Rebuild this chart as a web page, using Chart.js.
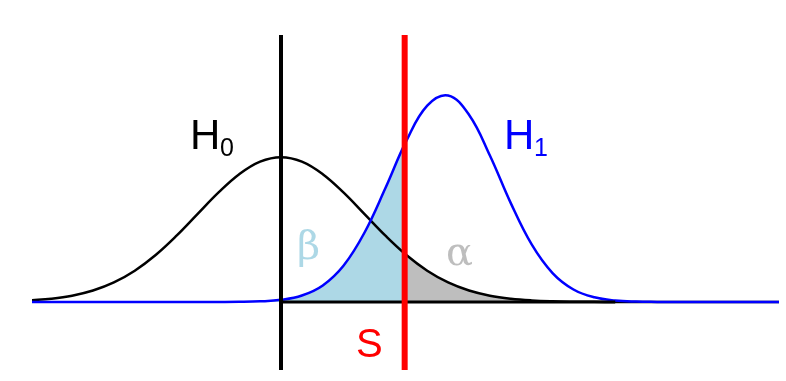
<!DOCTYPE html>
<html>
<head>
<meta charset="utf-8">
<script src="https://cdn.jsdelivr.net/npm/chart.js@4"></script>
<style>
  body { margin: 0; background: #fff; }
  canvas { display: block; }
</style>
</head>
<body>
<canvas id="chart" width="786" height="381"></canvas>
<script>
// x positions (standard units of H0)
var xs = [-3, -2.75, -2.5, -2.25, -2, -1.75, -1.5, -1.25, -1, -0.75, -0.5, -0.25, 0,
          0.25, 0.5, 0.75, 1, 1.25, 1.5, 1.75, 2, 2.25, 2.5, 2.75, 3,
          3.25, 3.5, 3.75, 4, 4.25, 4.5, 4.75, 5, 5.25, 5.5, 5.75, 6];

// H0 curve heights
var h0 = [0.0044, 0.0091, 0.0175, 0.0317, 0.054, 0.0863, 0.1295, 0.1826, 0.242, 0.3011, 0.3521, 0.3867, 0.3989,
          0.3867, 0.3521, 0.3011, 0.242, 0.1826, 0.1295, 0.0863, 0.054, 0.0317, 0.0175, 0.0091, 0.0044,
          0.002, 0.0009, 0.0004, 0.0001, 0, 0, 0, 0, 0, 0, 0, 0];

// H1 curve heights
var h1 = [0, 0, 0, 0, 0, 0, 0, 0, 0, 0.0001, 0.0004, 0.0018, 0.006,
          0.0179, 0.0457, 0.1007, 0.1915, 0.3139, 0.4437, 0.541, 0.5689, 0.516, 0.4037, 0.2723, 0.1585,
          0.0796, 0.0344, 0.0129, 0.0041, 0.0011, 0.0003, 0, 0, 0, 0, 0, 0];

// critical value S and curve heights there
var crit = 1.48;
var h0AtCrit = 0.133;
var h1AtCrit = 0.434;

// axis segment under the curves
var axisFrom = 0, axisTo = 4;

function pts(ys) {
    return xs.map(function (x, i) { return {x: x, y: ys[i]}; });
}

var h0Pts = pts(h0);
var h1Pts = pts(h1);

// beta: under H1 left of S, alpha: under H0 right of S
var betaPts = h1Pts.filter(function (p) { return p.x < crit; }).concat([{x: crit, y: h1AtCrit}]);
var alphaPts = [{x: crit, y: h0AtCrit}].concat(h0Pts.filter(function (p) { return p.x > crit; }));

var yMin = -0.1873, yMax = 0.7355;

var labels = {
    id: 'labels',
    afterDatasetsDraw: function (chart) {
        var ctx = chart.ctx;
        ctx.save();
        ctx.textBaseline = 'alphabetic';
        ctx.textAlign = 'left';

        ctx.fillStyle = '#000000';
        ctx.font = '42px "Liberation Sans", Arial, sans-serif';
        ctx.fillText('H', 190, 149);
        ctx.font = '25px "Liberation Sans", Arial, sans-serif';
        ctx.fillText('0', 220, 156);

        ctx.fillStyle = '#0000FF';
        ctx.font = '42px "Liberation Sans", Arial, sans-serif';
        ctx.fillText('H', 504, 149);
        ctx.font = '25px "Liberation Sans", Arial, sans-serif';
        ctx.fillText('1', 534, 156);

        ctx.fillStyle = '#FF0000';
        ctx.font = '40px "Liberation Sans", Arial, sans-serif';
        ctx.fillText('S', 356, 357);

        ctx.fillStyle = '#ADD8E6';
        ctx.font = '40px "DejaVu Serif", serif';
        ctx.fillText('\u03B2', 297, 259);

        ctx.fillStyle = '#BEBEBE';
        ctx.fillText('\u03B1', 446, 265);
        ctx.restore();
    }
};

new Chart(document.getElementById('chart'), {
    type: 'line',
    data: {
        datasets: [
            {
                data: betaPts, fill: 'origin', backgroundColor: '#ADD8E6',
                borderWidth: 0, pointRadius: 0, tension: 0.4, order: 10
            },
            {
                data: alphaPts, fill: 'origin', backgroundColor: '#BEBEBE',
                borderWidth: 0, pointRadius: 0, tension: 0.4, order: 10
            },
            {
                data: h0Pts, borderColor: '#000000', borderWidth: 2.5, fill: false,
                pointRadius: 0, tension: 0.4, order: 8
            },
            {
                data: h1Pts, borderColor: '#0000FF', borderWidth: 2.5, fill: false,
                pointRadius: 0, tension: 0.4, order: 7
            },
            {
                data: [{x: axisFrom, y: 0}, {x: axisTo, y: 0}], borderColor: '#000000',
                borderWidth: 3, fill: false, pointRadius: 0, order: 6
            },
            {
                data: [{x: 0, y: yMin - 0.01}, {x: 0, y: yMax + 0.01}], borderColor: '#000000',
                borderWidth: 4, fill: false, pointRadius: 0, clip: 0, order: 5
            },
            {
                data: [{x: crit, y: yMin - 0.01}, {x: crit, y: yMax + 0.01}], borderColor: '#FF0000',
                borderWidth: 6, fill: false, pointRadius: 0, clip: 0, order: 4
            }
        ]
    },
    options: {
        responsive: false,
        animation: false,
        layout: {padding: {left: 32, right: 7, top: 35, bottom: 11}},
        scales: {
            x: {type: 'linear', min: -2.98, max: 5.96, display: false},
            y: {min: yMin, max: yMax, display: false}
        },
        plugins: {
            legend: {display: false},
            tooltip: {enabled: false}
        }
    },
    plugins: [labels]
});
</script>
</body>
</html>
